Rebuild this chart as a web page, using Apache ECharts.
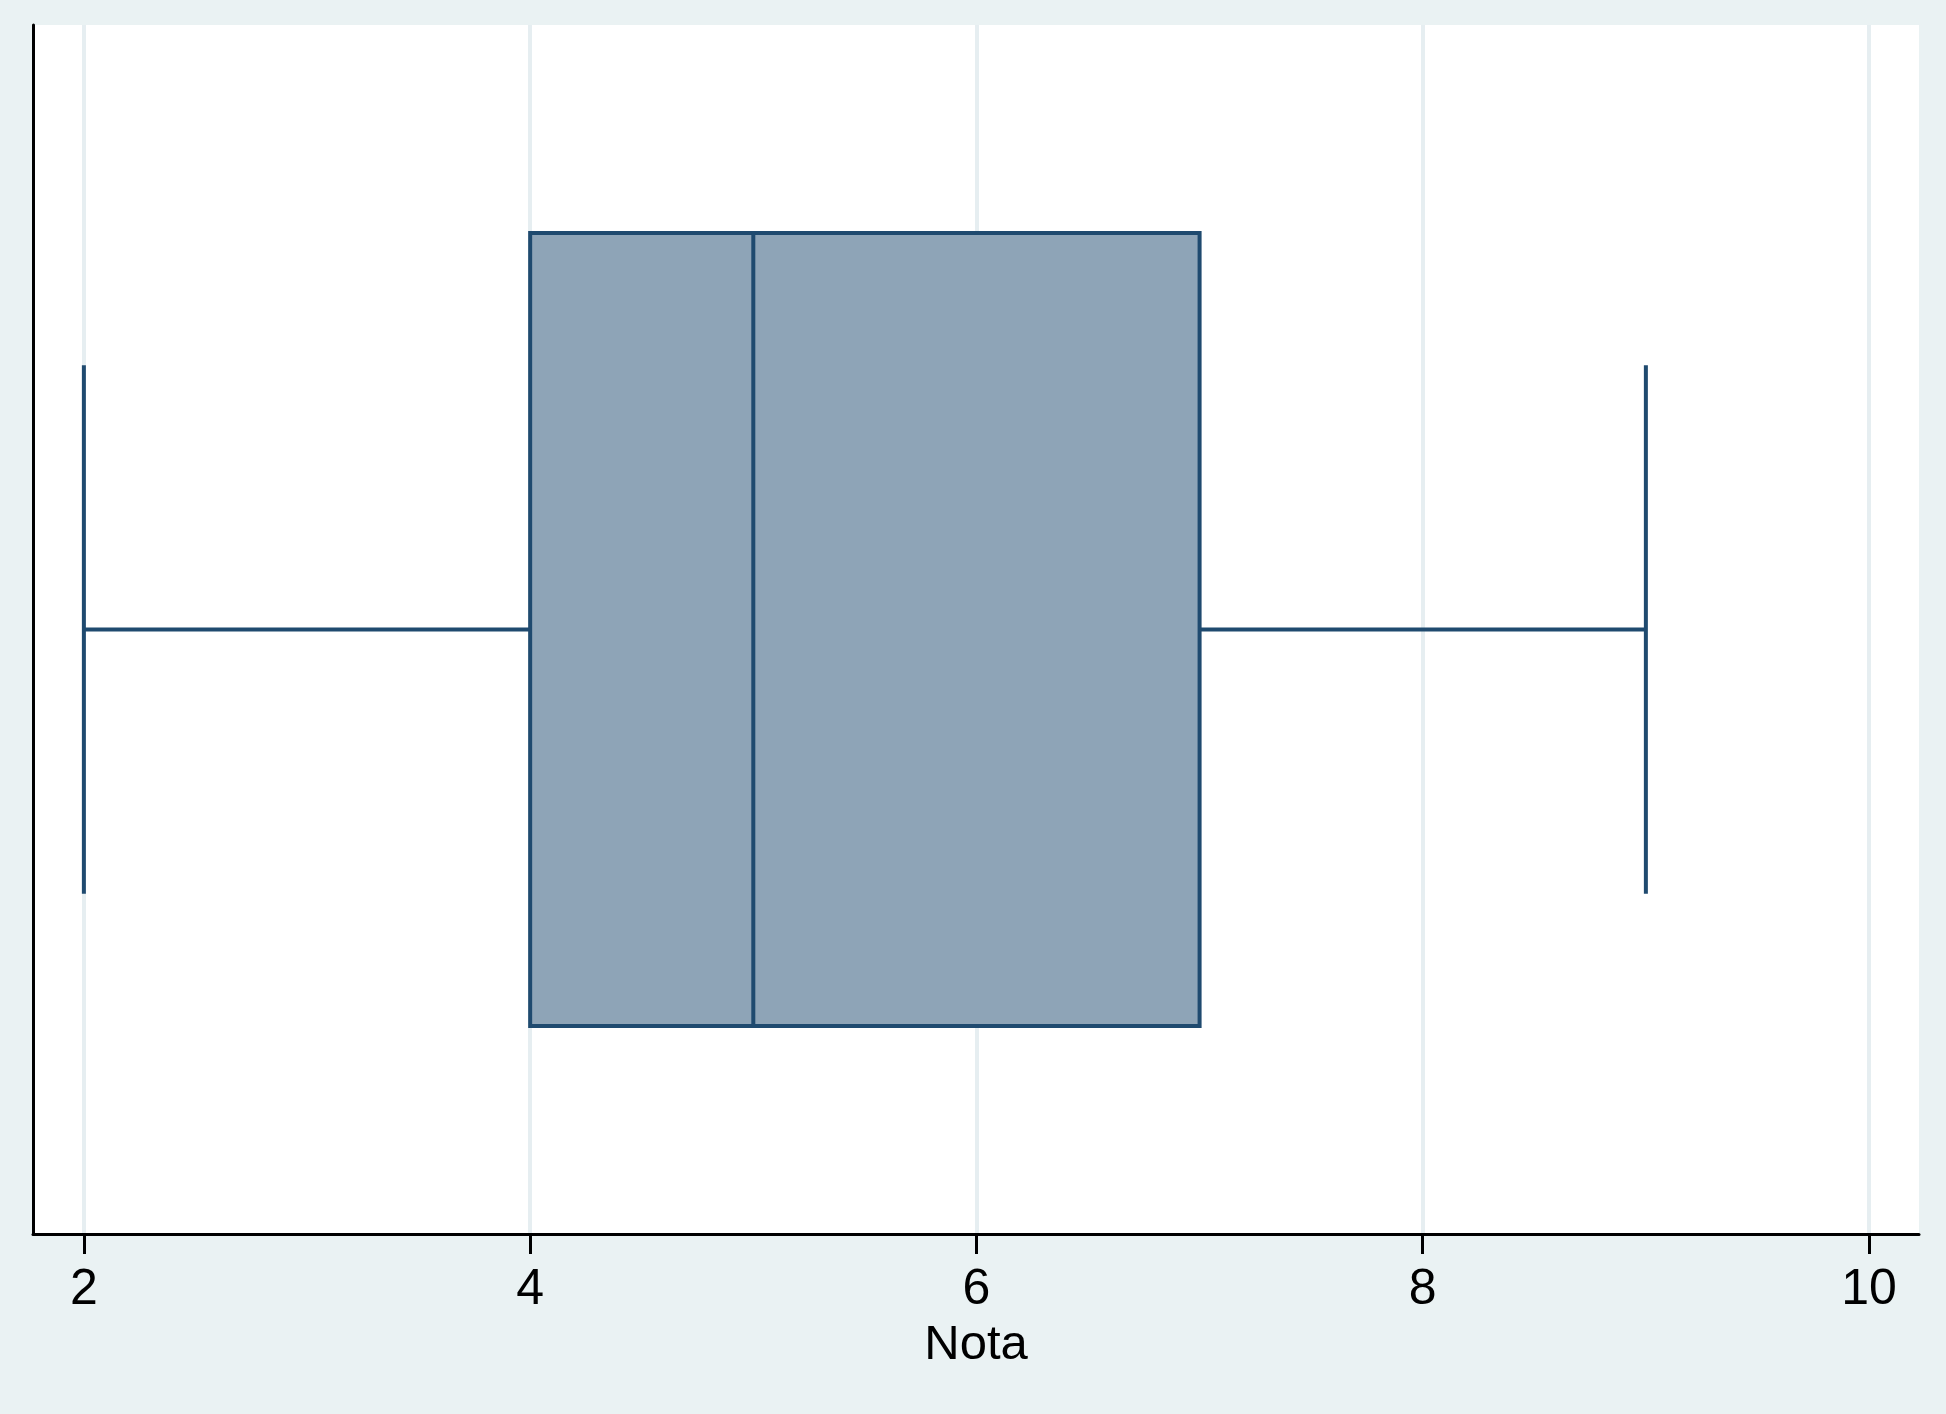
<!DOCTYPE html>
<html>
<head>
<meta charset="utf-8">
<script src="https://cdn.jsdelivr.net/npm/echarts@6/dist/echarts.min.js"></script>
<style>
html,body{margin:0;padding:0;background:#eaf2f3;}
#chart{width:1946px;height:1414px;}
</style>
</head>
<body>
<div id="chart"></div>
<script>
// Data
const categories = [''];
const minValues = [2];
const q1Values = [4];
const medianValues = [5];
const q3Values = [7];
const maxValues = [9];
const tickValues = [2, 4, 6, 8, 10];
const axisName = 'Nota';

const seriesData = categories.map((c, i) => [i, minValues[i], q1Values[i], medianValues[i], q3Values[i], maxValues[i]]);

const STROKE = '#1f4a6f';
const FILL = '#8ea4b7';

const chart = echarts.init(document.getElementById('chart'), null, {renderer: 'canvas'});
chart.setOption({
  backgroundColor: '#eaf2f3',
  animation: false,
  grid: {
    left: 33, right: 27, top: 25, bottom: 180,
    show: true, backgroundColor: '#ffffff', borderWidth: 0
  },
  xAxis: {
    type: 'value',
    min: 1.772, max: 10.224,
    name: axisName,
    nameLocation: 'middle',
    nameGap: 87,
    nameTextStyle: {fontFamily: 'Liberation Sans', fontSize: 49, color: '#000'},
    axisLine: {show: true, onZero: false, lineStyle: {color: '#000', width: 3}},
    axisTick: {show: true, length: 20, customValues: tickValues, lineStyle: {color: '#000', width: 3}},
    axisLabel: {customValues: tickValues, fontFamily: 'Liberation Sans', fontSize: 50, color: '#000', margin: 31},
    splitLine: {show: true, lineStyle: {color: '#e6eef1', width: 4}}
  },
  yAxis: {
    type: 'category',
    data: categories,
    axisLine: {show: true, lineStyle: {color: '#000', width: 3}},
    axisTick: {show: false},
    axisLabel: {show: false},
    splitLine: {show: false}
  },
  series: [{
    type: 'custom',
    data: seriesData,
    encode: {y: 0, x: [1, 2, 3, 4, 5]},
    renderItem: function (params, api) {
      const cat = api.value(0);
      const pMin = api.coord([api.value(1), cat]);
      const pQ1 = api.coord([api.value(2), cat]);
      const pMed = api.coord([api.value(3), cat]);
      const pQ3 = api.coord([api.value(4), cat]);
      const pMax = api.coord([api.value(5), cat]);
      const band = api.size([0, 1])[1];
      const boxHalf = band * 0.656 / 2;
      const capHalf = band * 0.437 / 2;
      const cy = pMed[1];
      const ls = {stroke: STROKE, lineWidth: 4};
      return {
        type: 'group',
        children: [
          {type: 'line', shape: {x1: pMin[0], y1: cy, x2: pQ1[0], y2: cy}, style: ls},
          {type: 'line', shape: {x1: pQ3[0], y1: cy, x2: pMax[0], y2: cy}, style: ls},
          {type: 'line', shape: {x1: pMin[0], y1: cy - capHalf, x2: pMin[0], y2: cy + capHalf}, style: ls},
          {type: 'line', shape: {x1: pMax[0], y1: cy - capHalf, x2: pMax[0], y2: cy + capHalf}, style: ls},
          {type: 'rect', shape: {x: pQ1[0], y: cy - boxHalf, width: pQ3[0] - pQ1[0], height: boxHalf * 2},
            style: {fill: FILL, stroke: STROKE, lineWidth: 4}},
          {type: 'line', shape: {x1: pMed[0], y1: cy - boxHalf, x2: pMed[0], y2: cy + boxHalf}, style: ls}
        ]
      };
    }
  }]
});
</script>
</body>
</html>
